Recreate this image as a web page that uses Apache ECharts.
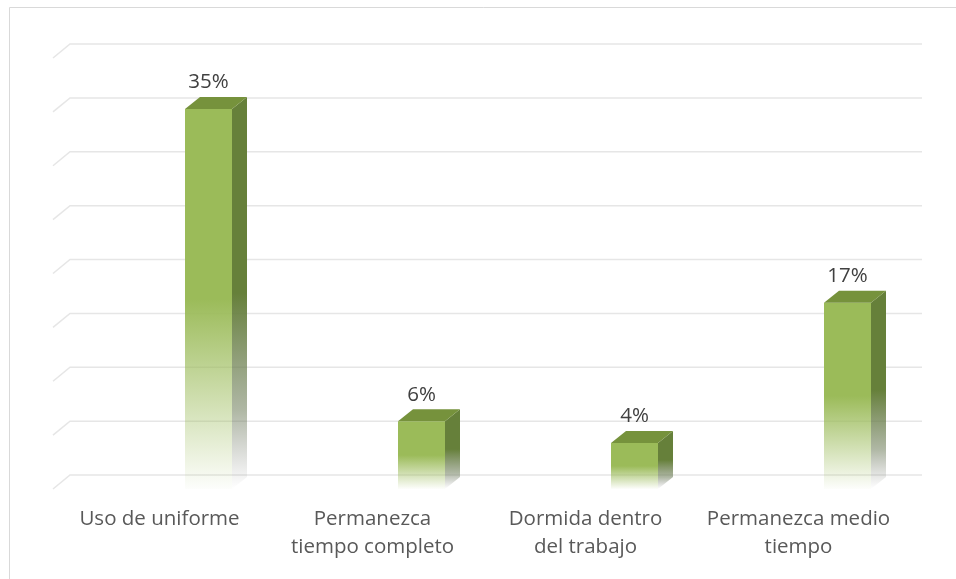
<!DOCTYPE html>
<html>
<head>
<meta charset="utf-8">
<script src="https://cdn.jsdelivr.net/npm/echarts@6/dist/echarts.min.js"></script>
<style>
  html, body { margin: 0; padding: 0; background: #ffffff; }
  #chart { width: 956px; height: 579px; }
</style>
</head>
<body>
<div id="chart"></div>
<script>
// Categories and percentage values
const categories = [
  'Uso de uniforme',
  'Permanezca\ntiempo completo',
  'Dormida dentro\ndel trabajo',
  'Permanezca medio\ntiempo'
];
const percentages = [35, 6, 4, 17];
// Gridline levels (percent)
const gridTicks = [0, 5, 10, 15, 20, 25, 30, 35, 40];

// Perspective offset between front plane and back wall
const DEPTH_X = 17, DEPTH_Y = 14;
// Bar geometry (pixels)
const BAR_SHIFT = 25.5, BAR_W = 47, BAR_DX = 15, BAR_DY = 12;
const FONT = '"Open Sans", "Noto Sans", sans-serif';

const chart = echarts.init(document.getElementById('chart'), null, { renderer: 'canvas' });

function renderGridline(params, api) {
  const cs = params.coordSys;
  const y = api.coord([0, api.value(1)])[1];
  return {
    type: 'polyline',
    shape: {
      points: [
        [cs.x, y],
        [cs.x + DEPTH_X, y - DEPTH_Y],
        [cs.x + cs.width + DEPTH_X, y - DEPTH_Y]
      ]
    },
    style: { stroke: '#e6e6e6', lineWidth: 1.5, fill: null },
    silent: true
  };
}

function renderBar(params, api) {
  const idx = api.value(0);
  const val = api.value(1);
  const base = api.coord([idx, 0]);
  const top = api.coord([idx, val]);
  const x0 = base[0] + BAR_SHIFT;
  const x1 = x0 + BAR_W;
  const yTop = top[1] - 3;
  const yBot = base[1];

  const frontFill = new echarts.graphic.LinearGradient(0, 0, 0, 1, [
    { offset: 0, color: '#9BBB59' },
    { offset: 0.5, color: '#9BBB59' },
    { offset: 0.78, color: 'rgba(155,187,89,0.45)' },
    { offset: 1, color: 'rgba(155,187,89,0.02)' }
  ]);
  const sideFill = new echarts.graphic.LinearGradient(0, 0, 0, 1, [
    { offset: 0, color: '#66803A' },
    { offset: 0.5, color: '#66803A' },
    { offset: 0.8, color: 'rgba(110,125,90,0.55)' },
    { offset: 1, color: 'rgba(120,120,120,0)' }
  ]);

  return {
    type: 'group',
    children: [
      {
        type: 'polygon',
        shape: { points: [[x1, yTop], [x1 + BAR_DX, yTop - BAR_DY], [x1 + BAR_DX, yBot - BAR_DY], [x1, yBot]] },
        style: { fill: sideFill }
      },
      {
        type: 'rect',
        shape: { x: x0, y: yTop, width: BAR_W, height: yBot - yTop },
        style: { fill: frontFill }
      },
      {
        type: 'polygon',
        shape: { points: [[x0, yTop], [x0 + BAR_DX, yTop - BAR_DY], [x1 + BAR_DX, yTop - BAR_DY], [x1, yTop]] },
        style: { fill: '#76923C' }
      },
      {
        type: 'text',
        style: {
          text: val + '%',
          x: (x0 + x1) / 2,
          y: yTop - BAR_DY - 4,
          align: 'center',
          verticalAlign: 'bottom',
          fill: '#404040',
          font: '20.5px ' + FONT
        }
      }
    ]
  };
}

chart.setOption({
  animation: false,
  backgroundColor: '#ffffff',
  graphic: [{
    type: 'rect',
    shape: { x: 9.5, y: 7.5, width: 1000, height: 700 },
    style: { fill: null, stroke: '#d9d9d9', lineWidth: 1 },
    silent: true,
    z: -10
  }],
  grid: { left: 53, right: 51, top: 58, bottom: 90 },
  xAxis: {
    type: 'category',
    data: categories,
    axisLine: { show: false },
    axisTick: { show: false },
    axisLabel: {
      color: '#595959',
      fontSize: 20.5,
      fontFamily: FONT,
      lineHeight: 28,
      margin: 16,
      interval: 0
    }
  },
  yAxis: {
    type: 'value',
    min: 0,
    max: 40,
    interval: 5,
    show: false,
    splitLine: { show: false }
  },
  series: [
    {
      type: 'custom',
      renderItem: renderGridline,
      data: gridTicks.map(t => [0, t]),
      encode: { x: 0, y: 1 },
      clip: false,
      silent: true,
      z: 1
    },
    {
      type: 'custom',
      renderItem: renderBar,
      data: percentages.map((v, i) => [i, v]),
      encode: { x: 0, y: 1 },
      clip: false,
      z: 2
    }
  ]
});
</script>
</body>
</html>
